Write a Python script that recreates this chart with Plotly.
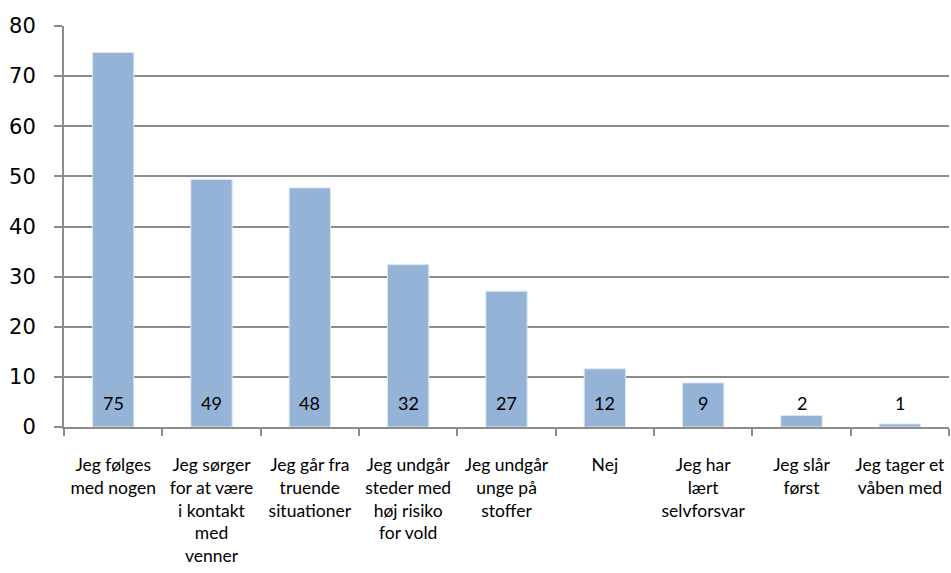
import plotly.graph_objects as go

categories = [
    "Jeg følges<br>med nogen",
    "Jeg sørger<br>for at være<br>i kontakt<br>med<br>venner",
    "Jeg går fra<br>truende<br>situationer",
    "Jeg undgår<br>steder med<br>høj risiko<br>for vold",
    "Jeg undgår<br>unge på<br>stoffer",
    "Nej",
    "Jeg har<br>lært<br>selvforsvar",
    "Jeg slår<br>først",
    "Jeg tager et<br>våben med",
]
values = [74.7, 49.4, 47.7, 32.4, 27.1, 11.6, 8.8, 2.3, 0.6]
labels = ["75", "49", "48", "32", "27", "12", "9", "2", "1"]
y_ticks = [0, 10, 20, 30, 40, 50, 60, 70, 80]

FONT = "Lato, Open Sans, sans-serif"
TICKFONT = "DejaVu Sans, sans-serif"

fig = go.Figure()
fig.add_trace(go.Bar(
    x=categories, y=values,
    marker=dict(color="#95B3D7", line=dict(color="#DCE6F2", width=1)),
    hoverinfo="skip",
))
for c, lab in zip(categories, labels):
    fig.add_annotation(x=c, y=4.8, text=lab, showarrow=False,
                       font=dict(family=FONT, size=18, color="#000000"),
                       xref="x", yref="y")

fig.update_layout(
    width=951, height=573,
    margin=dict(l=64, r=2, t=26, b=146),
    paper_bgcolor="white", plot_bgcolor="white",
    bargap=0.58,
    showlegend=False,
    font=dict(family=FONT, color="#000000"),
)
fig.update_yaxes(
    range=[0, 80], tickvals=y_ticks,
    showgrid=True, gridcolor="#8C8C8C", gridwidth=2,
    showline=True, linecolor="#8C8C8C", linewidth=2,
    ticks="outside", ticklen=8, tickcolor="#8C8C8C", tickwidth=2,
    tickfont=dict(family=TICKFONT, size=21, color="#000000"),
    ticklabelstandoff=14,
    zeroline=False, automargin=False,
)
fig.update_xaxes(
    showline=True, linecolor="#8C8C8C", linewidth=2,
    ticks="outside", tickson="boundaries", ticklen=7, tickcolor="#8C8C8C", tickwidth=2,
    tickfont=dict(family=FONT, size=17.5, color="#000000"),
    ticklabelstandoff=21,
    tickangle=0, automargin=False,
)

fig.write_html(
    "out.html",
    config={"displayModeBar": False},
    post_script="document.body.style.margin='0';document.body.style.overflow='hidden';",
)
